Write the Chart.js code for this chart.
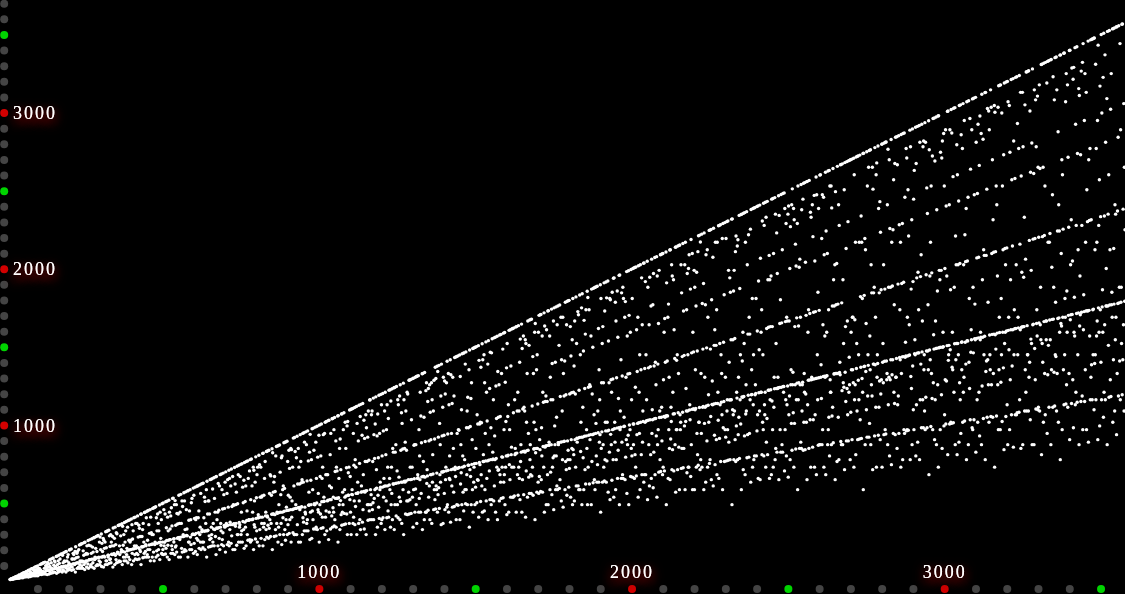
<!DOCTYPE html>
<html>
<head>
<meta charset="utf-8">
<style>
html, body { margin: 0; padding: 0; background: #000; overflow: hidden; }
canvas { display: block; }
</style>
<script src="https://cdn.jsdelivr.net/npm/chart.js@4"></script>
</head>
<body>
<canvas id="plot" width="1125" height="594"></canvas>
<script>
// values for n = 1, 2, 3 ... ten per row
const valuesTo1000 = [
1,1,2,2,4,2,6,4,6,4,
10,4,12,6,8,8,16,6,18,8,
12,10,22,8,20,12,18,12,28,8,
30,16,20,16,24,12,36,18,24,16,
40,12,42,20,24,22,46,16,42,20,
32,24,52,18,40,24,36,28,58,16,
60,30,36,32,48,20,66,32,44,24,
70,24,72,36,40,36,60,24,78,32,
54,40,82,24,64,42,56,40,88,24,
72,44,60,46,72,32,96,42,60,40,
100,32,102,48,48,52,106,36,108,40,
72,48,112,36,88,56,72,58,96,32,
110,60,80,60,100,36,126,64,84,48,
130,40,108,66,72,64,136,44,138,48,
92,70,120,48,112,72,84,72,148,40,
150,72,96,60,120,48,156,78,104,64,
132,54,162,80,80,82,166,48,156,64,
108,84,172,56,120,80,116,88,178,48,
180,72,120,88,144,60,160,92,108,72,
190,64,192,96,96,84,196,60,132,80,
132,100,168,64,160,102,132,96,180,48,
210,104,140,106,168,72,180,108,144,80,
192,72,222,96,120,112,226,72,228,88,
120,112,232,72,184,116,156,96,238,64,
240,110,162,120,168,80,216,120,164,100,
250,72,220,126,128,128,256,84,216,96,
168,130,262,80,208,108,176,132,268,72,
270,128,144,136,200,88,276,138,180,96,
280,92,282,140,144,120,240,96,272,112,
192,144,292,84,232,144,180,148,264,80,
252,150,200,144,240,96,306,120,204,120,
310,96,312,156,144,156,316,104,280,128,
212,132,288,108,240,162,216,160,276,80,
330,164,216,166,264,96,336,156,224,128,
300,108,294,168,176,172,346,112,348,120,
216,160,352,116,280,176,192,178,358,96,
342,180,220,144,288,120,366,176,240,144,
312,120,372,160,200,184,336,108,378,144,
252,190,382,128,240,192,252,192,388,96,
352,168,260,196,312,120,396,198,216,160,
400,132,360,200,216,168,360,128,408,160,
272,204,348,132,328,192,276,180,418,96,
420,210,276,208,320,140,360,212,240,168,
430,144,432,180,224,216,396,144,438,160,
252,192,442,144,352,222,296,192,448,120,
400,224,300,226,288,144,456,228,288,176,
460,120,462,224,240,232,466,144,396,184,
312,232,420,156,360,192,312,238,478,128,
432,240,264,220,384,168,486,162,240,192,
490,160,448,216,240,240,420,164,498,200,
332,250,502,144,400,220,312,252,508,128,
432,256,324,256,408,168,460,216,344,192,
520,168,522,260,240,262,480,160,506,208,
348,216,480,176,424,264,356,268,420,144,
540,270,360,256,432,144,546,272,360,200,
504,176,468,276,288,276,556,180,504,192,
320,280,562,184,448,282,324,280,568,144,
570,240,380,240,440,192,576,272,384,224,
492,192,520,288,288,292,586,168,540,232,
392,288,592,180,384,296,396,264,598,160,
600,252,396,300,440,200,606,288,336,240,
552,192,612,306,320,240,616,204,618,240,
396,310,528,192,500,312,360,312,576,144,
630,312,420,316,504,208,504,280,420,256,
640,212,642,264,336,288,646,216,580,240,
360,324,652,216,520,320,432,276,658,160,
660,330,384,328,432,216,616,332,444,264,
600,192,672,336,360,312,676,224,576,256,
452,300,682,216,544,346,456,336,624,176,
690,344,360,346,552,224,640,348,464,240,
700,216,648,320,368,352,600,232,708,280,
468,352,660,192,480,356,476,358,718,192,
612,342,480,360,560,220,726,288,486,288,
672,240,732,366,336,352,660,240,738,288,
432,312,742,240,592,372,492,320,636,200,
750,368,500,336,600,216,756,378,440,288,
760,252,648,380,384,382,696,256,768,240,
512,384,772,252,600,384,432,388,720,192,
700,352,504,336,624,260,786,392,524,312,
672,240,720,396,416,396,796,216,736,320,
528,400,720,264,528,360,536,400,808,216,
810,336,540,360,648,256,756,408,432,320,
820,272,822,408,400,348,826,264,828,328,
552,384,672,276,664,360,540,418,838,192,
812,420,560,420,624,276,660,416,564,320,
792,280,852,360,432,424,856,240,858,336,
480,430,862,288,688,432,544,360,780,224,
792,432,576,396,600,288,876,438,584,320,
880,252,882,384,464,442,886,288,756,352,
540,444,828,296,712,384,528,448,840,240,
832,400,504,448,720,300,906,452,600,288,
910,288,820,456,480,456,780,288,918,352,
612,460,840,240,720,462,612,448,928,240,
756,464,620,466,640,288,936,396,624,368,
940,312,880,464,432,420,946,312,864,360,
632,384,952,312,760,476,560,478,816,256,
930,432,636,480,768,264,966,440,576,384,
970,324,828,486,480,480,976,324,880,336,
648,490,982,320,784,448,552,432,924,240,
990,480,660,420,792,328,996,498,648,400
];
const valuesTo2000 = [
720,332,928,500,528,502,936,288,1008,400,
672,440,1012,312,672,504,672,508,1018,256,
1020,432,600,512,800,324,936,512,588,408,
1030,336,1032,460,528,432,960,344,1038,384,
692,520,888,336,720,522,696,520,1048,240,
1050,524,648,480,840,320,900,506,704,416,
1060,348,1062,432,560,480,960,352,1068,424,
576,528,1008,356,840,536,716,420,984,288,
1012,540,684,540,720,360,1086,512,660,432,
1090,288,1092,546,576,544,1096,360,936,400,
732,504,1102,352,768,468,720,552,1108,288,
1000,552,624,556,888,360,1116,504,744,384,
1044,320,1122,560,600,562,924,368,1128,448,
672,564,1020,324,904,560,756,568,1056,288,
972,570,756,480,912,380,1080,480,764,440,
1150,384,1152,576,480,544,1056,384,1080,448,
756,492,1162,384,928,520,776,576,996,288,
1170,584,704,586,920,336,1060,540,780,464,
1180,392,936,576,624,592,1186,360,1120,384,
792,592,1192,396,952,528,648,598,1080,320,
1200,600,800,504,960,396,1120,600,720,440,
1032,400,1212,606,648,576,1216,336,1144,480,
720,552,1222,384,840,612,816,612,1228,320,
1230,480,816,616,864,408,1236,618,696,480,
1152,396,1120,620,656,528,1176,384,1248,500,
828,624,1068,360,1000,624,836,576,1258,288,
1152,630,840,624,880,420,1080,632,828,504,
1200,416,1188,504,640,560,1276,420,1278,512,
720,640,1282,424,1024,642,720,528,1288,336,
1290,576,860,646,864,432,1296,580,864,480,
1300,360,1302,648,672,652,1306,432,960,520,
792,640,1200,432,1048,552,876,658,1318,320,
1320,660,756,660,1040,384,1326,656,884,432,
1210,432,1260,616,704,664,1140,444,1224,528,
888,600,1248,384,1072,672,896,672,1260,360,
1152,624,800,676,1080,448,1276,576,900,512,
1360,452,1288,600,576,682,1366,432,1332,544,
912,588,1372,456,1000,672,864,624,1176,352,
1380,690,920,688,1104,360,1296,692,924,552,
1272,448,1188,640,720,696,1260,464,1398,480,
932,700,1320,432,1120,648,792,640,1408,368,
1312,704,936,600,1128,464,1296,708,840,560,
1176,468,1422,704,720,660,1426,384,1428,480,
936,712,1432,476,960,716,956,718,1438,384,
1300,612,864,684,1088,480,1446,720,792,560,
1450,440,1452,726,768,576,1380,486,1458,576,
972,672,1080,480,1168,732,972,732,1344,336,
1470,704,980,660,1160,480,1260,738,896,576,
1480,432,1482,624,720,742,1486,480,1488,592,
840,744,1492,492,1056,640,996,636,1498,400,
1404,750,996,736,1008,500,1360,672,1004,600,
1510,432,1408,756,800,756,1440,440,1260,576,
936,760,1522,504,1200,648,1016,760,1380,384,
1530,764,864,696,1224,512,1456,768,972,480,
1452,512,1542,768,816,772,1152,504,1548,600,
920,768,1552,432,1240,776,1032,720,1558,384,
1332,700,1040,704,1248,504,1566,672,1044,624,
1570,520,1320,786,720,784,1476,524,1578,624,
960,672,1582,480,1264,720,1012,792,1356,416,
1512,792,1044,796,1120,432,1596,736,960,640,
1600,528,1368,800,848,720,1606,528,1608,528,
1068,720,1612,536,1152,800,840,808,1618,432,
1620,810,1080,672,1200,540,1626,720,1080,648,
1392,512,1540,756,864,816,1636,432,1480,640,
1092,820,1560,544,1104,822,1080,816,1536,400,
1512,696,1008,826,1320,528,1656,828,936,656,
1500,552,1662,768,864,672,1666,552,1668,664,
1112,720,1428,540,1320,836,1008,838,1584,384,
1640,812,960,840,1344,560,1440,840,1124,624,
1584,552,1692,660,896,832,1696,564,1698,640,
972,792,1560,560,1200,852,1136,720,1708,432,
1624,848,1140,856,1176,480,1600,858,1140,672,
1720,480,1722,860,880,862,1560,576,1296,688,
1152,864,1732,544,1384,720,1152,780,1656,448,
1740,792,984,864,1392,576,1746,792,1040,600,
1632,576,1752,876,864,876,1500,584,1758,640,
1172,880,1680,504,1408,882,1080,768,1680,464,
1320,884,1176,886,1400,576,1776,756,1184,704,
1632,540,1782,888,768,828,1786,592,1788,712,
1188,768,1620,528,1432,896,1196,840,1536,480,
1800,832,1200,800,1368,504,1656,896,1188,720,
1810,600,1512,906,880,904,1716,600,1696,576,
1212,910,1822,576,1440,820,1008,912,1740,480,
1830,912,1104,780,1464,576,1660,918,1224,704,
1572,612,1728,920,960,840,1846,480,1806,720,
1232,924,1728,612,1248,896,1236,928,1560,480,
1860,756,1188,928,1488,620,1866,932,1056,640,
1870,576,1872,936,1000,792,1876,624,1878,736,
1080,940,1608,624,1344,880,1152,928,1888,432,
1800,840,1260,946,1512,624,1620,864,1260,720,
1900,632,1720,768,1008,952,1906,624,1804,760,
1008,952,1912,560,1528,956,1260,816,1800,512,
1792,930,1280,864,1200,636,1840,960,1284,768,
1930,528,1932,966,1008,880,1776,576,1656,768,
1292,970,1848,648,1552,828,1160,972,1948,480,
1950,960,1080,976,1408,648,1836,880,1304,672,
1872,648,1800,980,1040,982,1680,640,1780,784,
1296,896,1972,552,1560,864,1316,924,1978,480,
1692,990,1320,960,1584,660,1986,840,1152,792,
1800,656,1992,996,864,996,1996,648,1998,800
];
const valuesTo3000 = [
1232,720,2002,664,1600,928,1332,1000,1680,528,
2010,1004,1200,936,1440,576,2016,1008,1344,800,
1932,672,1632,880,1080,1012,2026,624,2028,672,
1352,1008,1908,672,1440,1016,1152,1018,2038,512,
1872,1020,1356,864,1632,600,1936,1024,1364,800,
1752,648,2052,936,1088,1024,1760,588,1960,816,
1368,1030,2062,672,1392,1032,1248,920,2068,528,
1944,864,1380,960,1640,688,1980,1038,1080,768,
2080,692,2082,1040,1104,888,2086,672,2088,720,
1280,1044,1584,696,1672,1040,1392,1048,2098,480,
1900,1050,1400,1048,1680,648,1764,960,1296,840,
2110,640,2112,900,1104,1012,2016,704,1944,832,
1200,1060,1920,696,1600,1062,1416,864,2128,560,
2130,960,1404,960,1440,704,2136,1068,1320,848,
2140,576,2142,1056,960,1008,2016,712,1836,840,
1428,1072,2152,716,1720,840,1436,984,2016,576,
2160,1012,1224,1080,1728,684,1960,1080,1440,720,
1992,720,2080,1086,1120,1024,1860,660,2178,864,
1452,1090,2088,576,1584,1092,1458,1092,1980,576,
1872,1088,1344,1096,1752,720,1968,936,1464,800,
2100,732,2202,1008,1008,1102,2206,704,2162,768,
1320,936,2212,720,1768,1104,1476,1108,1896,576,
2220,1000,1296,1104,1760,624,2080,1112,1484,888,
2112,720,1680,1116,1184,1008,2236,744,2238,768,
1476,1044,2242,640,1792,1122,1272,1120,2064,600,
2250,1124,1500,924,1600,736,2160,1128,1500,896,
1728,672,2160,1128,1200,1020,2266,648,2268,904,
1512,1120,2272,756,1440,1136,1320,1056,2184,576,
2280,972,1520,1140,1824,756,2286,960,1296,912,
2184,760,2292,1080,1152,960,2296,764,1980,880,
1392,1150,1932,768,1840,1152,1536,1152,2308,480,
2310,1088,1536,1056,1848,768,1980,1080,1544,896,
2100,756,2200,984,1200,1162,2136,768,2176,928,
1296,1040,2332,776,1864,1152,1440,996,2338,576,
2340,1170,1400,1168,1584,704,2346,1172,1512,920,
2350,672,2160,1060,1248,1080,2356,780,2016,928,
1572,1180,2208,784,1680,936,1572,1152,2244,624,
2370,1184,1344,1186,1800,720,2376,1120,1440,768,
2380,792,2382,1184,1248,1192,1800,792,2388,952,
1592,1056,2392,648,1912,1196,1472,1080,2398,640,
2058,1200,1584,1200,1728,800,2296,1008,1440,960,
2410,792,2268,1120,1056,1200,2416,720,2320,880,
1608,1032,2422,800,1920,1212,1616,1212,2076,648,
1920,1152,1620,1216,1944,672,2436,1144,1620,960,
2440,720,2088,1104,1296,1222,2446,768,2340,840,
1512,1224,2220,816,1960,1224,1296,1228,2458,640,
2332,1230,1640,960,1792,816,2466,1232,1644,864,
2112,816,2472,1236,1200,1236,2476,696,2376,960,
1652,1152,2280,792,1680,1120,1656,1240,2340,656,
2392,1056,1656,1176,1992,768,2260,1248,1344,1000,
2400,828,2502,1248,1328,1068,2376,720,2304,1000,
1620,1248,2148,836,2008,1152,1676,1258,2280,576,
2520,1152,1624,1260,2000,840,2052,1248,1680,880,
2530,840,2368,1080,1248,1264,2436,828,2538,1008,
1320,1200,2542,832,2032,1188,1692,1008,2548,640,
2550,1120,1584,1276,1728,840,2556,1278,1704,1024,
2352,720,2320,1280,1296,1282,2400,848,2196,1024,
1712,1284,2460,720,2040,1056,1716,1288,2578,672,
2464,1290,1440,1152,1840,860,2376,1292,1724,864,
2590,864,2592,1296,1376,1160,2184,864,2464,960,
1632,1300,2448,720,2080,1302,1560,1296,2608,672,
2232,1304,1584,1306,2088,864,2616,960,1728,1040,
2620,792,2520,1280,1200,1200,2520,864,2380,1048,
1752,1104,2632,876,1920,1316,1752,1318,2016,640,
2484,1320,1760,1320,2024,756,2646,1320,1764,1040,
2400,768,2268,1326,1392,1312,2656,884,2658,864,
1772,1210,2662,864,1920,1260,1512,1232,2496,704,
2670,1328,1620,1140,2120,888,2676,1224,1656,1056,
2292,888,2682,1200,1424,1248,2686,768,2688,1072,
1584,1344,2692,896,1680,1344,1680,1260,2698,720,
2592,1152,1664,1248,2160,800,2706,1352,1512,1080,
2710,896,2712,1276,1440,1152,2160,900,2718,1024,
1812,1360,2328,904,2160,1288,1800,1200,2728,576,
2730,1364,1820,1366,2184,864,2112,1332,1640,1088,
2740,912,2520,1176,1440,1372,2640,912,2748,1000,
1560,1344,2752,864,2016,1248,1836,1176,2640,704,
2500,1380,1836,1380,1872,920,2766,1376,1680,1104,
2592,720,2668,1296,1440,1384,2776,924,2376,1104,
1836,1272,2420,896,2224,1188,1856,1280,2788,720,
2790,1392,1512,1260,2016,928,2796,1398,1860,960,
2800,932,2802,1400,1280,1320,2400,864,2756,1120,
1872,1296,2688,792,2248,1280,1872,1408,2818,736,
2160,1312,1880,1408,2240,936,2560,1200,1760,1128,
2664,928,2832,1296,1296,1416,2836,840,2656,1120,
1892,1176,2842,936,2272,1422,1728,1408,2160,720,
2850,1320,1896,1426,2280,768,2856,1428,1904,960,
2860,936,2448,1424,1520,1432,2760,952,2700,960,
1680,1432,2496,956,2200,1436,1632,1438,2878,768,
2772,1300,1860,1224,2304,864,2886,1368,1908,1088,
2436,960,2620,1446,1536,1440,2896,792,2664,1120,
1932,1450,2902,880,1968,1452,1728,1452,2908,768,
2800,1152,1940,1380,2080,972,2916,1458,1656,1152,
2772,972,2808,1344,1440,1080,2926,960,2800,1168,
1952,1464,2508,972,2344,1464,1760,1344,2938,672,
2752,1470,1944,1408,2160,980,2520,1320,1964,1160,
2712,960,2952,1260,1568,1476,2956,896,2680,1152,
1656,1480,2962,864,2368,1482,1848,1248,2968,720,
2970,1484,1980,1486,1920,960,2736,1488,1980,1184,
2700,840,2808,1488,1584,1492,2856,984,2520,1056,
1992,1280,2880,996,2392,1272,1944,1498,2998,800
];
const valuesTo3571 = [
3000,1404,1440,1500,2400,996,2880,1472,1856,1008,
3010,1000,2860,1360,1584,1344,2580,1004,3018,1200,
1872,1510,3022,864,2200,1408,2016,1512,2784,800,
2592,1512,2016,1440,2424,880,3036,1260,2024,1152,
3040,936,2848,1520,1344,1522,2760,1008,3048,1200,
2016,1296,2940,1016,2208,1520,2036,1380,2376,768,
3060,1530,2040,1528,2448,864,3066,1392,1800,1224,
2952,1024,2628,1456,1600,1536,2880,972,3078,960,
1872,1452,3082,1024,2464,1542,1764,1536,3088,816,
2800,1544,2060,1152,2472,1008,2916,1548,2064,1200,
2652,920,2968,1536,1584,1552,2856,864,3108,1240,
1920,1552,2820,1032,2112,1440,2076,1558,3118,768,
3120,1332,2076,1400,2500,1040,3016,1408,1776,1248,
3000,1008,2880,1566,1440,1344,3136,1044,3024,1248,
2088,1570,2688,1040,2304,1320,2096,1572,3036,720,
2992,1568,2100,1476,2520,1048,2400,1578,1944,1248,
3024,960,3162,1344,1680,1582,3166,960,3168,1264,
1800,1440,2988,1012,2520,1584,2112,1356,2720,832,
3180,1512,2120,1584,2016,1044,3186,1592,2124,1120,
3190,864,3060,1596,1680,1472,3036,960,2736,1280,
1920,1600,3202,1056,2560,1368,2136,1600,3208,848,
2808,1440,1728,1606,2568,1056,3216,1608,2016,1056,
3220,1068,2920,1440,1680,1612,2760,1072,3228,1152,
2148,1600,3120,840,2584,1616,1968,1618,3120,864,
2772,1620,1936,1620,2320,1080,3040,1344,2052,1200,
3250,1080,3252,1626,1440,1440,3256,1080,3258,1296,
2172,1392,3000,1024,2608,1540,1980,1512,2796,864,
3270,1632,2180,1636,2600,864,3136,1480,2184,1280,
3072,1092,2772,1640,1728,1560,3096,1088,2640,1104,
2192,1644,3168,1080,2632,1632,1872,1536,3298,800,
3300,1512,2196,1392,2640,1008,3306,1652,2204,1320,
2520,1056,3312,1656,1536,1656,3180,936,3318,1312,
2160,1500,3322,1104,2160,1662,2216,1536,3328,864,
3330,1344,2000,1666,2464,1104,3220,1668,1872,1328,
3072,1112,3342,1440,1776,1428,3346,1080,3136,1320,
2232,1672,2868,1008,2400,1676,2232,1584,3358,768,
3360,1640,2088,1624,2688,960,2592,1680,2244,1344,
3370,1120,3372,1440,1800,1680,3060,1124,3240,1248,
1848,1584,3168,1104,2704,1692,2256,1320,3388,896,
3390,1664,2016,1696,2304,1128,3276,1698,2040,1280,
3204,972,3280,1584,1808,1560,3406,1120,2916,1200,
2268,1704,3412,1136,2728,1440,2112,1708,3144,864,
3100,1624,1944,1696,2720,1140,3256,1712,2268,1176,
3312,960,3432,1600,1824,1716,2940,1140,3240,1344,
2160,1720,3120,960,2496,1722,2292,1720,3448,880,
2688,1724,2300,1560,2760,1152,3456,1296,2304,1376,
3460,1152,3462,1728,1440,1732,3466,1088,3468,1384,
2112,1440,3300,1152,2760,1560,2160,1656,2940,896,
3422,1740,2268,1584,2560,984,3160,1728,2324,1392,
3490,1152,2988,1746,1856,1584,3216,1040,3498,1200,
2328,1632,3360,1152,2800,1752,1992,1752,3080,864,
3510,1752,2340,1500,2592,1168,3516,1758,2112,1280,
3012,1172,3240,1760,1840,1680,3526,1008,3528,1408,
2120,1764,3532,1080,2400,1536,2340,1680,3538,928,
3540,1320,2360,1768,2832,1176,3546,1772,1872,1400,
3432,1152,2880,1776,1872,1512,3556,1184,3558,1408,
2372,1632,3048,1080,2640,1782,2240,1776,3444,768,
3570
];
const xDotValues = [100,200,300,400,500,600,700,800,900,1000,1100,1200,1300,1400,1500,1600,1700,1800,1900,2000,2100,2200,2300,2400,2500,2600,2700,2800,2900,3000,3100,3200,3300,3400,3500];
const yDotValues = [100,200,300,400,500,600,700,800,900,1000,1100,1200,1300,1400,1500,1600,1700,1800,1900,2000,2100,2200,2300,2400,2500,2600,2700,2800,2900,3000,3100,3200,3300,3400,3500,3600,3700];
const tickLabels = ['1000', '2000', '3000'];

const allValues = valuesTo1000.concat(valuesTo2000, valuesTo3000, valuesTo3571);

function dotColor(v) {
    if (v % 1000 === 0) return '#d40000';
    if (v % 500 === 0) return '#00d400';
    return '#444444';
}

// labels with the red glow, placed through the scales
const glowLabels = {
    id: 'glowLabels',
    afterDraw(chart) {
        const c = chart.ctx;
        const xs = chart.scales.x, ys = chart.scales.y;
        c.save();
        c.font = '18px "Liberation Serif"';
        c.letterSpacing = '2px';
        c.fillStyle = '#ffffff';
        c.shadowColor = '#8c0000';
        c.shadowBlur = 12;
        c.shadowOffsetY = 4;
        c.textBaseline = 'middle';
        tickLabels.forEach(t => {
            const v = Number(t);
            c.textAlign = 'center';
            c.fillText(t, xs.getPixelForValue(v), 573);
            c.fillText(t, xs.getPixelForValue(v), 573);
            c.textAlign = 'left';
            c.fillText(t, 13, ys.getPixelForValue(v) + 1.5);
            c.fillText(t, 13, ys.getPixelForValue(v) + 1.5);
        });
        c.restore();
    }
};

new Chart(document.getElementById('plot'), {
    type: 'scatter',
    data: {
        datasets: [
            {
                // the cloud sits slightly off the axis dots, so it gets its own scales
                xAxisID: 'xData',
                yAxisID: 'yData',
                data: allValues.map((v, i) => ({ x: i + 1, y: v })),
                backgroundColor: '#ffffff',
                borderWidth: 0,
                pointRadius: 1.7
            },
            {
                data: xDotValues.map(v => ({ x: v, y: -47 })),
                backgroundColor: xDotValues.map(dotColor),
                borderWidth: 0,
                pointRadius: 4
            },
            {
                data: yDotValues.map(v => ({ x: -8, y: v })),
                backgroundColor: yDotValues.map(dotColor),
                borderWidth: 0,
                pointRadius: 4
            }
        ]
    },
    options: {
        responsive: false,
        animation: false,
        devicePixelRatio: 1,
        layout: { padding: 0, autoPadding: false },
        scales: {
            x: { type: 'linear', display: false, min: -21.4, max: 3576.6 },
            y: { type: 'linear', display: false, min: -79.4, max: 3724 },
            xData: { type: 'linear', display: false, axis: 'x', min: -31, max: 3567 },
            yData: { type: 'linear', display: false, axis: 'y', min: -92.2, max: 3711.2 }
        },
        plugins: { legend: { display: false }, tooltip: { enabled: false } }
    },
    plugins: [glowLabels]
});
</script>
</body>
</html>
